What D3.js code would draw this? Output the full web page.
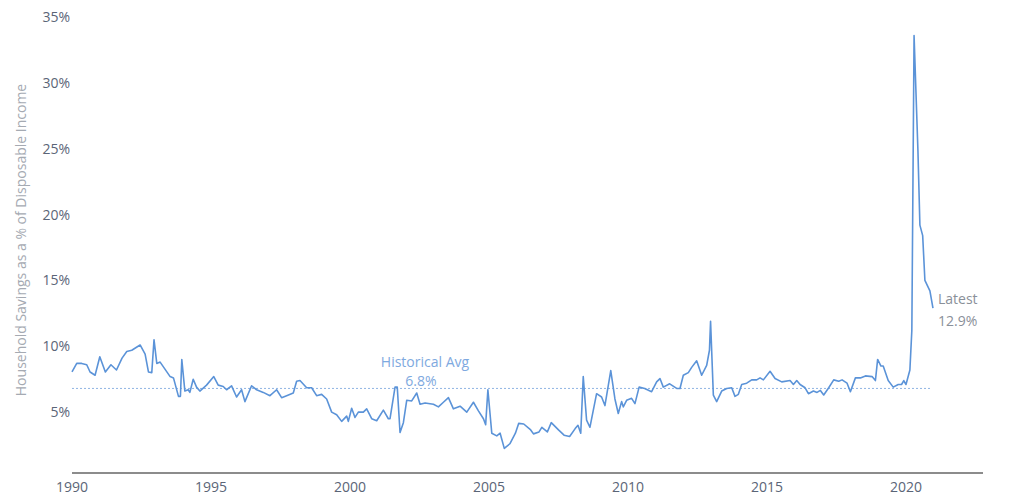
<!DOCTYPE html>
<html>
<head>
<meta charset="utf-8">
<script src="https://cdn.jsdelivr.net/npm/d3@7"></script>
<style>
  body { margin: 0; background: #fff; }
  text { font-family: "Open Sans", sans-serif; }
</style>
</head>
<body>
<svg id="chart" width="1024" height="502"></svg>
<script>
// savings rate readings, [decimal year, % of disposable income]
var years = [1990.0,1990.17,1990.35,1990.53,1990.65,1990.83,1991.0,1991.2,1991.4,1991.6,1991.8,1991.97,1992.15,1992.45,1992.63,1992.75,1992.87,1992.95,1993.05,1993.17,1993.53,1993.65,1993.83,1993.9,1993.95,1994.06,1994.18,1994.24,1994.36,1994.48,1994.6,1994.84,1995.1,1995.26,1995.44,1995.56,1995.74,1995.92,1996.1,1996.22,1996.46,1996.64,1996.88,1997.12,1997.36,1997.54,1997.72,1997.96,1998.08,1998.2,1998.44,1998.62,1998.8,1998.98,1999.16,1999.34,1999.52,1999.7,1999.88,1999.94,2000.06,2000.18,2000.3,2000.48,2000.6,2000.78,2000.96,2001.2,2001.38,2001.44,2001.62,2001.7,2001.8,2001.92,2002.04,2002.22,2002.4,2002.52,2002.7,2003.0,2003.18,2003.36,2003.54,2003.72,2003.96,2004.2,2004.44,2004.62,2004.8,2004.88,2004.96,2005.1,2005.28,2005.4,2005.55,2005.75,2005.95,2006.07,2006.25,2006.5,2006.6,2006.8,2006.9,2007.1,2007.24,2007.5,2007.7,2007.9,2008.1,2008.2,2008.3,2008.39,2008.51,2008.63,2008.87,2009.05,2009.17,2009.38,2009.53,2009.65,2009.77,2009.83,2009.95,2010.13,2010.25,2010.4,2010.6,2010.85,2011.03,2011.15,2011.27,2011.5,2011.75,2011.87,2011.99,2012.17,2012.29,2012.47,2012.65,2012.83,2012.93,2012.97,2013.07,2013.19,2013.37,2013.55,2013.73,2013.85,2013.97,2014.09,2014.27,2014.45,2014.63,2014.75,2014.87,2015.11,2015.29,2015.53,2015.83,2015.95,2016.07,2016.19,2016.37,2016.49,2016.67,2016.8,2016.92,2017.04,2017.22,2017.4,2017.58,2017.7,2017.88,2018.0,2018.18,2018.36,2018.54,2018.78,2018.9,2018.98,2019.1,2019.18,2019.36,2019.54,2019.72,2019.84,2019.92,2020.0,2020.14,2020.21,2020.29,2020.43,2020.5,2020.6,2020.68,2020.86,2020.97];
var rates = [8.05,8.7,8.7,8.6,8.05,7.8,9.2,8.05,8.6,8.2,9.1,9.6,9.7,10.1,9.4,8.05,8.0,10.5,8.7,8.8,7.7,7.6,6.2,6.2,9.0,6.6,6.7,6.5,7.5,6.9,6.6,7.05,7.7,7.05,6.95,6.7,7.0,6.15,6.7,5.8,7.0,6.7,6.5,6.25,6.7,6.1,6.25,6.45,7.35,7.4,6.85,6.85,6.25,6.35,6.0,5.0,4.8,4.3,4.7,4.3,5.3,4.6,5.0,5.0,5.25,4.5,4.35,5.15,4.5,4.5,6.9,6.9,3.45,4.2,5.9,5.85,6.45,5.6,5.7,5.6,5.4,5.75,6.1,5.25,5.45,5.0,5.75,5.1,4.5,4.05,6.7,3.4,3.2,3.4,2.25,2.6,3.4,4.15,4.1,3.65,3.35,3.5,3.85,3.5,4.2,3.65,3.25,3.15,3.75,4.0,3.4,7.7,4.4,3.85,6.4,6.15,5.5,8.15,6.0,4.9,5.8,5.4,5.9,6.05,5.65,6.9,6.8,6.55,7.3,7.55,6.9,7.15,6.8,6.8,7.8,8.0,8.4,8.9,7.8,8.55,9.7,11.9,6.3,5.8,6.6,6.8,6.85,6.2,6.35,7.1,7.2,7.45,7.45,7.6,7.45,8.1,7.55,7.3,7.4,7.1,7.4,7.1,6.85,6.4,6.6,6.5,6.65,6.3,6.85,7.45,7.35,7.45,7.2,6.55,7.6,7.6,7.75,7.7,7.4,9.0,8.5,8.5,7.4,6.9,7.1,7.1,7.4,7.1,8.2,11.2,33.6,24.8,19.2,18.4,15.0,14.2,12.9];
var yTicks = [5, 10, 15, 20, 25, 30, 35];
var xTicks = [1990, 1995, 2000, 2005, 2010, 2015, 2020];
var histAvg = 6.8;
var latest = 12.9;

var svg = d3.select("#chart");
var x = d3.scaleLinear().domain([1990, 2020]).range([72, 906]);
var y = d3.scaleLinear().domain([0, 35]).range([478, 17]);
var tickColor = "#5b6577";

// baseline
svg.append("line")
    .attr("x1", x(1990)).attr("x2", 983)
    .attr("y1", 473).attr("y2", 473)
    .attr("stroke", "#666").attr("stroke-width", 1.5);

svg.selectAll(".xt").data(xTicks).enter().append("text")
    .attr("x", function(d){ return x(d); })
    .attr("y", 492)
    .attr("text-anchor", "middle")
    .attr("fill", tickColor)
    .style("font-size", "14px")
    .text(function(d){ return d; });

svg.selectAll(".yt").data(yTicks).enter().append("text")
    .attr("x", 70)
    .attr("y", function(d){ return y(d) + 5; })
    .attr("text-anchor", "end")
    .attr("fill", tickColor)
    .style("font-size", "14px")
    .text(function(d){ return d + "%"; });

svg.append("text")
    .attr("transform", "translate(26,240) rotate(-90)")
    .attr("text-anchor", "middle")
    .attr("fill", "#a5aab2")
    .style("font-size", "14px")
    .text("Household Savings as a % of Disposable Income");

// historical average
svg.append("line")
    .attr("x1", x(1990)).attr("x2", x(2020.92))
    .attr("y1", y(histAvg)).attr("y2", y(histAvg))
    .attr("stroke", "#8fb4e3").attr("stroke-width", 1)
    .attr("stroke-dasharray", "2,2");

var pts = years.map(function(d, i){ return [d, rates[i]]; });
var line = d3.line().x(function(d){ return x(d[0]); }).y(function(d){ return y(d[1]); });
svg.append("path")
    .datum(pts)
    .attr("d", line)
    .attr("fill", "none")
    .attr("stroke", "#5b93d8")
    .attr("stroke-width", 1.6)
    .attr("stroke-linejoin", "round");

svg.append("text")
    .attr("x", 425).attr("y", 367)
    .attr("text-anchor", "middle")
    .attr("fill", "#7ea9e0")
    .style("font-size", "14px")
    .text("Historical Avg");
svg.append("text")
    .attr("x", 421).attr("y", 386)
    .attr("text-anchor", "middle")
    .attr("fill", "#7ea9e0")
    .style("font-size", "14px")
    .text(histAvg + "%");

svg.append("text")
    .attr("x", 938).attr("y", 304)
    .attr("fill", "#8a9099")
    .style("font-size", "14px")
    .text("Latest");
svg.append("text")
    .attr("x", 938).attr("y", 326)
    .attr("fill", "#8a9099")
    .style("font-size", "14px")
    .text(latest + "%");
</script>
</body>
</html>
